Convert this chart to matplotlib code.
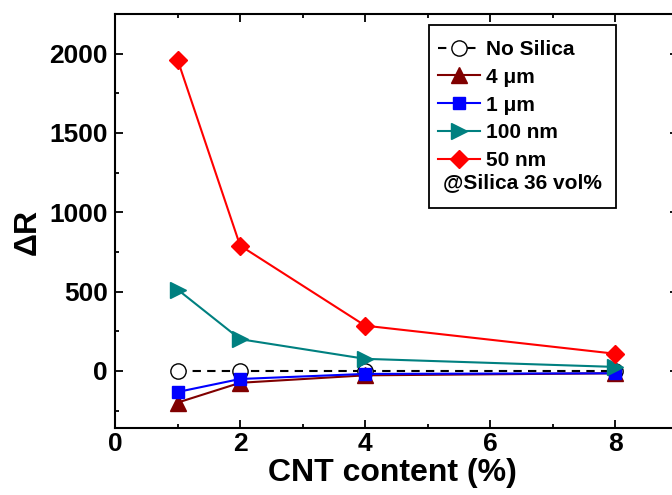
import matplotlib
matplotlib.use('Agg')
import matplotlib.pyplot as plt
from matplotlib.patches import Rectangle
from matplotlib.ticker import MultipleLocator

plt.rcParams['font.family'] = ['Liberation Sans', 'DejaVu Sans']
plt.rcParams['font.weight'] = 'bold'

# CNT content (%)
cnt = [1, 2, 4, 8]

# Delta R for each silica filler
no_silica = [0, 0, 0, 0]
r_4um = [-200, -75, -28, -15]
r_1um = [-133, -51, -19, -15]
r_100nm = [513, 200, 76, 25]
r_50nm = [1962, 790, 285, 108]

labels = ['No Silica', '4 \u03bcm', '1 \u03bcm', '100 nm', '50 nm']
note = '@Silica 36 vol%'

W, H = 672, 495
fig = plt.figure(figsize=(W / 100, H / 100), dpi=100)
# axes run slightly past the right edge, as in the cropped original
left, right, top, bottom = 115, 678, 14, 428
aw, ah = right - left, bottom - top
ax = fig.add_axes([left / W, 1 - bottom / H, aw / W, ah / H])


def ax_xy(px, py):
    # pixel position in the figure -> axes fraction
    return (px - left) / aw, (bottom - py) / ah


ax.plot(cnt, no_silica, '--', color='black', lw=1.5, marker='o', ms=11,
        mfc='white', mec='black', mew=1.0, label=labels[0], dashes=(4, 3))
ax.plot(cnt, r_4um, '-', color='#800000', lw=1.5, marker='^', ms=11, label=labels[1])
ax.plot(cnt, r_1um, '-', color='#0000ff', lw=1.5, marker='s', ms=9, label=labels[2])
ax.plot(cnt, r_100nm, '-', color='#008080', lw=1.5, marker='>', ms=11, label=labels[3])
ax.plot(cnt, r_50nm, '-', color='#ff0000', lw=1.5, marker='D', ms=9, label=labels[4])

ax.set_xlim(0, 9)
ax.set_ylim(-360, 2250)
ax.xaxis.set_major_locator(MultipleLocator(2))
ax.xaxis.set_minor_locator(MultipleLocator(1))
ax.yaxis.set_major_locator(MultipleLocator(500))
ax.yaxis.set_minor_locator(MultipleLocator(250))
ax.tick_params(which='both', direction='in', top=True, right=True, width=1.3)
ax.tick_params(which='major', length=6, labelsize=19)
ax.tick_params(which='minor', length=3)
ax.tick_params(axis='x', which='major', pad=3)
ax.tick_params(axis='y', which='major', pad=5)
for lab in ax.get_xticklabels() + ax.get_yticklabels():
    lab.set_fontweight('bold')
for s in ax.spines.values():
    s.set_linewidth(1.5)

ax.set_xlabel('CNT content (%)', fontsize=23, fontweight='bold')
ax.set_ylabel('\u0394R', fontsize=23, fontweight='bold')
ax.xaxis.set_label_coords(*ax_xy(392, 458), transform=ax.transAxes)
ax.yaxis.set_label_coords(*ax_xy(43, 232), transform=ax.transAxes)

handles, labs = ax.get_legend_handles_labels()
leg = ax.legend(handles, labs, loc='upper left', bbox_to_anchor=ax_xy(438, 40),
                borderaxespad=0, frameon=False,
                prop={'size': 15, 'weight': 'bold'}, handlelength=2.0, handletextpad=0.3,
                labelspacing=0.42, borderpad=0)
ax.add_patch(Rectangle(ax_xy(429, 208), (616 - 429) / aw, (208 - 25) / ah,
                       transform=ax.transAxes, fill=False, edgecolor='black', lw=1.3, zorder=5))
ax.text(*ax_xy(443, 183), note, transform=ax.transAxes,
        fontsize=15, fontweight='bold', va='center', ha='left')

fig.savefig('out.png', dpi=100)
